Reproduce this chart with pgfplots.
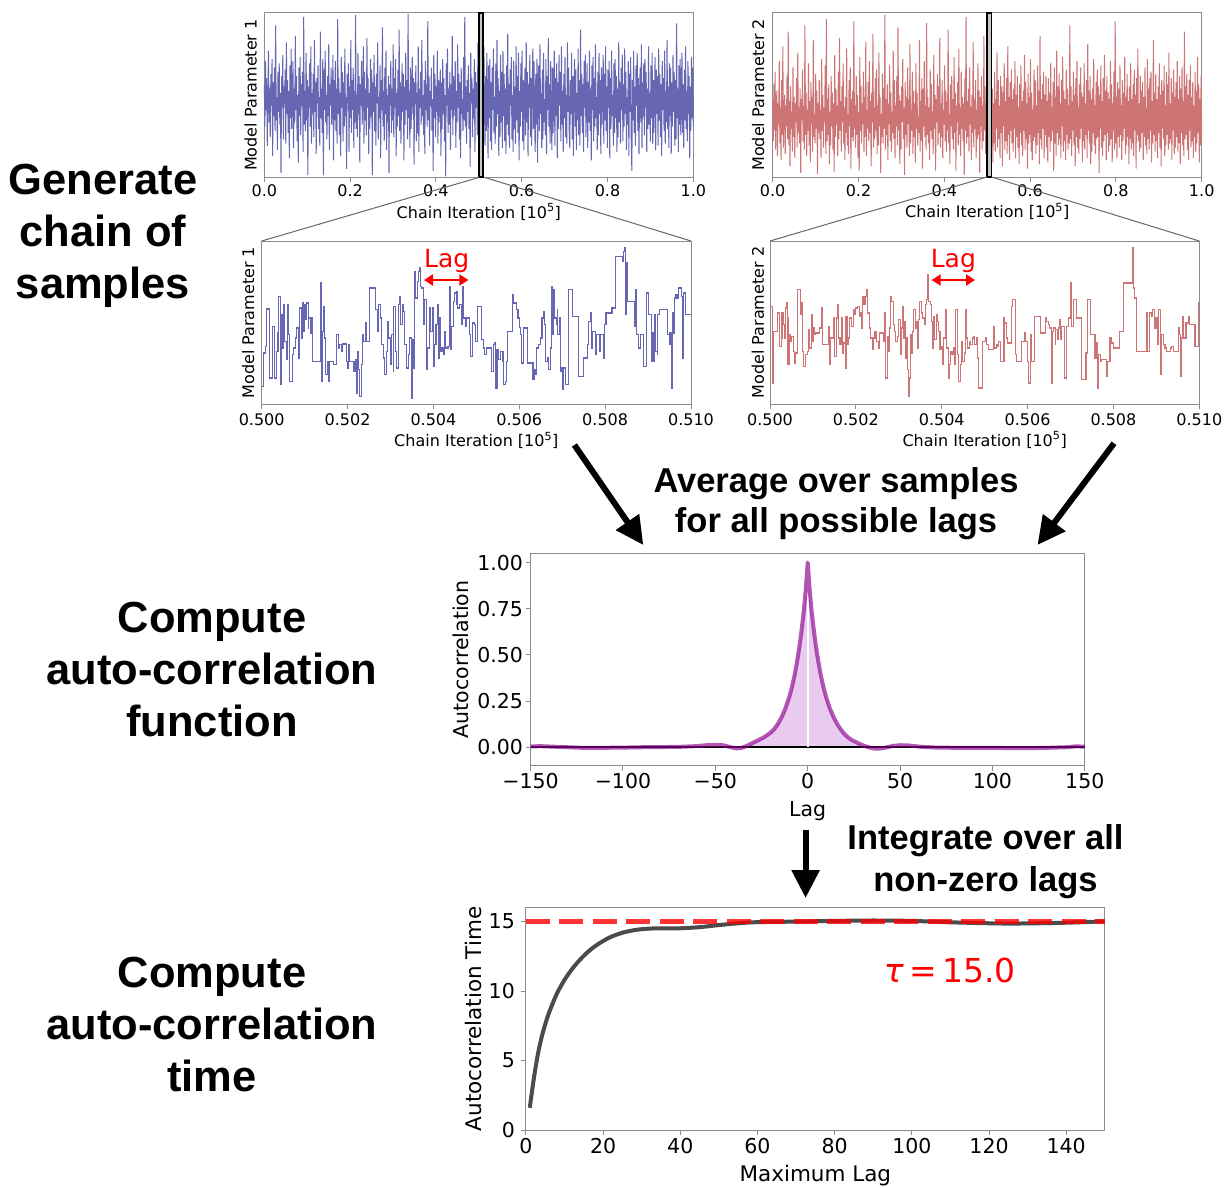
\documentclass[border=0pt]{standalone}
\usepackage{fontspec}
\setmainfont{DejaVu Sans}
\newfontfamily\headfont{Liberation Sans}
\usepackage{pgfplots}
\pgfplotsset{compat=1.18}
\usepackage{pgfplotstable}
\usetikzlibrary{arrows.meta}

\definecolor{traceblue}{RGB}{102,102,179}
\definecolor{tracered}{RGB}{205,116,116}
\definecolor{spine}{RGB}{140,140,140}
\definecolor{acfline}{RGB}{139,0,139}
\definecolor{acffill}{RGB}{233,203,240}
\definecolor{taugray}{RGB}{75,75,75}

\pgfplotsset{
  mpl/.style={
    scale only axis,
    axis line style={draw=spine, line width=1pt},
    tick style={draw=spine, line width=1pt},
    tick align=outside,
    major tick length=5pt,
    xtick pos=left, ytick pos=left,
  },
  small/.style={mpl,
    ticklabel style={font=\fontsize{16}{19}\selectfont},
    label style={font=\fontsize{16}{19}\selectfont},
    xticklabel style={anchor=base, inner sep=0pt, yshift=-14.4pt},
    ytick=\empty,
  },
  big/.style={mpl,
    ticklabel style={font=\fontsize{20.5}{24}\selectfont},
    label style={font=\fontsize{21}{25}\selectfont},
  },
}

% ---------- long chains (thinned to 720 draws each) ----------
\pgfplotstableread[header=false,row sep=\\]{
0.8\\ -1.2\\ 1.9\\ -0.4\\ 1.1\\ -2.1\\ 0.3\\ 2.4\\ -1.0\\ 0.6\\ -1.7\\ 1.3\\ -0.2\\ 2.0\\ -2.6\\ 0.9\\ -0.7\\ 1.6\\ -1.4\\ 3.6\\
-0.9\\ 0.2\\ -2.3\\ 1.4\\ -0.5\\ 1.8\\ -1.1\\ 0.4\\ -3.4\\ 1.2\\ -0.3\\ 2.2\\ -1.8\\ 0.7\\ -0.1\\ 1.5\\ -2.0\\ 2.8\\ -0.6\\ 1.0\\
-1.5\\ 0.5\\ -2.7\\ 1.7\\ -0.8\\ 2.5\\ -1.3\\ 0.1\\ 1.9\\ -2.2\\ 0.6\\ -1.0\\ 3.1\\ -0.4\\ 1.2\\ -1.9\\ 0.3\\ -2.9\\ 1.6\\ -0.7\\
2.1\\ -1.6\\ 0.8\\ -0.2\\ 1.4\\ -2.4\\ 4.0\\ -1.1\\ 0.5\\ -1.4\\ 2.3\\ -0.9\\ 1.0\\ -3.5\\ 0.7\\ -0.3\\ 1.8\\ -1.2\\ 2.6\\ -2.0\\
0.4\\ -0.6\\ 1.3\\ -1.7\\ 2.9\\ -0.5\\ 0.9\\ -2.5\\ 1.1\\ -0.1\\ 1.7\\ -1.3\\ 0.2\\ -2.1\\ 3.3\\ -0.8\\ 0.6\\ -1.5\\ 2.0\\ -3.5\\
1.5\\ -0.4\\ 2.4\\ -1.0\\ 0.3\\ -1.8\\ 1.2\\ -0.7\\ 2.7\\ -2.3\\ 0.8\\ -0.2\\ 1.6\\ -1.1\\ -0.5\\ 2.2\\ -2.8\\ 1.0\\ -0.9\\ 1.9\\
-1.4\\ 0.6\\ -2.0\\ 3.9\\ -0.6\\ 1.1\\ -1.6\\ 0.4\\ -2.6\\ 2.1\\ -0.3\\ 1.4\\ -1.9\\ 0.9\\ -1.2\\ 2.5\\ -0.7\\ 0.2\\ -3.2\\ 1.3\\
-0.1\\ 1.8\\ -2.4\\ 0.7\\ -0.8\\ 2.9\\ -1.5\\ 1.0\\ -0.4\\ 1.6\\ -2.2\\ 0.5\\ -1.0\\ 4.1\\ -1.3\\ 0.3\\ -1.7\\ 2.3\\ -0.6\\ 1.2\\
-2.9\\ 0.8\\ -0.2\\ 1.9\\ -1.1\\ 0.1\\ 2.6\\ -2.0\\ 1.4\\ -0.9\\ 0.6\\ -1.6\\ 3.0\\ -0.3\\ 1.1\\ -2.5\\ 0.4\\ -1.3\\ 2.0\\ -0.7\\
1.5\\ -3.5\\ 0.9\\ -0.5\\ 2.2\\ -1.4\\ 0.7\\ -2.1\\ 1.3\\ -0.1\\ 2.8\\ -1.8\\ 0.2\\ -0.8\\ 1.7\\ -2.7\\ 1.0\\ -0.4\\ 3.5\\ -1.2\\
0.5\\ -1.9\\ 1.6\\ -0.6\\ 2.4\\ -2.3\\ 0.3\\ -1.0\\ 1.2\\ -3.4\\ 0.8\\ -0.2\\ 1.9\\ -1.5\\ 0.6\\ -0.9\\ 2.7\\ -1.7\\ 1.1\\ -0.3\\
2.0\\ -2.6\\ 0.4\\ -1.2\\ 1.5\\ -0.7\\ 3.4\\ -1.4\\ 0.9\\ -2.0\\ 0.1\\ 1.8\\ -0.5\\ 1.3\\ -2.8\\ 0.7\\ -1.1\\ 2.3\\ -0.4\\ 1.0\\
-1.8\\ 4.15\\ -0.8\\ 0.5\\ -2.2\\ 1.6\\ -1.3\\ 0.2\\ 2.1\\ -0.6\\ 1.1\\ -3.0\\ 0.9\\ -0.1\\ 1.7\\ -1.9\\ 0.4\\ -1.5\\ 2.6\\ -2.4\\
0.6\\ -0.3\\ 1.4\\ -1.1\\ 2.9\\ -0.7\\ 0.3\\ -1.6\\ 1.0\\ -2.5\\ 1.9\\ -0.4\\ 0.8\\ -1.2\\ 3.8\\ -0.9\\ 1.2\\ -2.1\\ 0.5\\ -0.2\\
1.6\\ -1.4\\ 0.1\\ -3.3\\ 2.2\\ -0.8\\ 1.3\\ -1.7\\ 0.7\\ -0.5\\ 2.4\\ -2.0\\ 1.0\\ -1.0\\ 0.4\\ 1.5\\ -2.6\\ 0.9\\ -1.3\\ 2.0\\
-0.6\\ 1.1\\ -1.9\\ 0.3\\ -3.55\\ 1.8\\ -0.2\\ 2.5\\ -1.5\\ 0.6\\ -1.1\\ 1.4\\ -2.3\\ 0.8\\ -0.4\\ 3.1\\ -1.6\\ 1.2\\ -0.7\\ 0.2\\
1.9\\ -2.2\\ 0.5\\ -1.0\\ 2.7\\ -0.3\\ 1.3\\ -1.8\\ 0.9\\ -2.7\\ 1.6\\ -0.6\\ 0.1\\ -1.4\\ 2.1\\ -0.9\\ 4.0\\ -1.2\\ 0.7\\ -2.0\\
1.0\\ -0.5\\ 1.7\\ -1.3\\ 0.4\\ -3.1\\ 2.3\\ -0.1\\ 1.1\\ -1.7\\ 0.6\\ -0.8\\ 2.0\\ -2.4\\ 1.4\\ -0.3\\ 0.9\\ -1.6\\ 2.8\\ -1.1\\
-1.8\\ 2.2\\ -0.9\\ 1.5\\ -2.4\\ 0.7\\ 1.9\\ -1.6\\ 2.6\\ -0.3\\ -2.1\\ 1.2\\ -1.4\\ 2.3\\ 0.4\\ -2.7\\ 1.7\\ -0.8\\ 2.0\\ -1.9\\
0.9\\ -2.3\\ 1.6\\ -0.4\\ 2.5\\ -1.5\\ 0.2\\ -2.0\\ 1.8\\ -1.2\\ 2.9\\ -0.6\\ 1.1\\ -2.6\\ 0.5\\ -1.7\\ 2.2\\ -1.0\\ 1.4\\ -2.2\\
2.4\\ -0.7\\ 1.3\\ -1.9\\ 0.6\\ -2.5\\ 1.7\\ -1.1\\ 3.2\\ -1.6\\ 0.8\\ -2.2\\ 1.5\\ -0.2\\ 2.1\\ -1.8\\ 0.3\\ -2.4\\ 1.9\\ -1.3\\
0.7\\ -2.0\\ 2.6\\ -0.9\\ 1.2\\ -1.5\\ 2.3\\ -2.8\\ 0.5\\ -1.2\\ 1.8\\ -0.5\\ 2.4\\ -1.9\\ 1.0\\ -2.3\\ 0.2\\ 1.6\\ -1.6\\ 2.8\\
-1.0\\ 1.4\\ -2.6\\ 0.8\\ -0.3\\ 2.2\\ -1.7\\ 1.1\\ -2.1\\ 0.6\\ 2.5\\ -1.3\\ 1.9\\ -0.8\\ -2.4\\ 1.3\\ -1.1\\ 2.0\\ -2.9\\ 0.9\\
1.7\\ -1.4\\ 2.7\\ -0.6\\ 0.4\\ -2.2\\ 1.5\\ -1.8\\ 2.3\\ -1.0\\ 0.1\\ -1.6\\ 2.0\\ -2.5\\ 1.2\\ -0.4\\ 3.0\\ -1.2\\ 0.8\\ -2.0\\
1.9\\ -0.9\\ -2.3\\ 1.6\\ -1.5\\ 0.6\\ 2.4\\ -2.1\\ 1.1\\ -0.7\\ 1.8\\ -2.7\\ 0.9\\ -1.3\\ 2.2\\ -0.2\\ 1.4\\ -1.9\\ 2.6\\ -1.1\\
0.5\\ -2.4\\ 1.3\\ -0.8\\ 2.1\\ -1.7\\ 0.3\\ -2.0\\ 2.8\\ -0.5\\ 1.6\\ -1.4\\ -2.2\\ 1.0\\ -0.6\\ 2.3\\ -1.8\\ 1.2\\ -2.6\\ 0.7\\
2.0\\ -1.2\\ 1.5\\ -2.3\\ 0.4\\ -0.9\\ 2.5\\ -1.6\\ 1.0\\ -2.1\\ 3.4\\ -0.7\\ 1.3\\ -1.5\\ 0.8\\ -2.4\\ 1.9\\ -0.3\\ 2.2\\ -1.7\\
-0.5\\ 1.8\\ -2.2\\ 0.9\\ -1.0\\ 2.4\\ -1.4\\ 0.6\\ -2.8\\ 1.7\\ -0.4\\ 2.1\\ -1.9\\ 1.1\\ -1.2\\ 2.7\\ -0.8\\ 0.2\\ -2.3\\ 1.4\\
-1.6\\ 2.3\\ -0.6\\ 1.0\\ -2.5\\ 1.6\\ -1.1\\ 0.5\\ 2.2\\ -2.0\\ 1.3\\ -0.9\\ 2.6\\ -1.4\\ 0.7\\ -2.2\\ 1.5\\ -0.3\\ 1.9\\ -2.7\\
1.1\\ -1.3\\ 2.4\\ -0.7\\ 0.3\\ -2.1\\ 1.8\\ -1.5\\ 2.0\\ -0.8\\ 1.2\\ -2.4\\ 0.6\\ -1.7\\ 2.8\\ -1.0\\ 0.9\\ -2.0\\ 1.6\\ -0.4\\
2.2\\ -1.9\\ 0.8\\ -1.2\\ 2.5\\ -0.6\\ 1.4\\ -2.3\\ 0.2\\ -1.1\\ 1.9\\ -2.6\\ 1.3\\ -0.5\\ 2.1\\ -1.8\\ -3.3\\ 1.0\\ -0.9\\ 2.4\\
-1.5\\ 0.7\\ -2.1\\ 1.7\\ -0.2\\ 2.3\\ -1.4\\ 1.1\\ -2.5\\ 0.5\\ 1.6\\ -1.0\\ 2.7\\ -2.2\\ 0.9\\ -0.7\\ 1.8\\ -1.6\\ 2.0\\ -0.3\\
1.4\\ -2.4\\ 0.6\\ -1.3\\ 2.6\\ -1.1\\ 0.4\\ -1.9\\ 1.7\\ -0.8\\ 2.3\\ -2.0\\ 1.0\\ -1.5\\ 0.3\\ 2.1\\ -2.3\\ 1.5\\ -0.6\\ 1.2\\
-2.1\\ 2.5\\ -0.9\\ 1.3\\ -1.7\\ 0.8\\ -2.6\\ 1.9\\ -0.4\\ 1.1\\ -1.4\\ 2.4\\ -2.0\\ 0.5\\ -1.0\\ 2.9\\ -1.3\\ 0.7\\ -2.2\\ 1.8\\
-0.7\\ 1.6\\ -2.5\\ 0.9\\ -1.2\\ 2.2\\ -0.5\\ 1.4\\ -2.1\\ 1.0\\ -1.8\\ 3.7\\ -0.8\\ 0.6\\ -2.4\\ 1.7\\ -1.1\\ 2.0\\ -1.6\\ 0.4\\
2.3\\ -1.5\\ 0.8\\ -2.2\\ 1.5\\ -0.9\\ 2.6\\ -1.3\\ 0.5\\ -1.9\\ 1.9\\ -0.6\\ 1.2\\ -2.7\\ 0.7\\ -1.4\\ 2.1\\ -0.8\\ 1.6\\ -1.2\\
}\chainA

\pgfplotstableread[header=false,row sep=\\]{
0.9\\ -1.1\\ 1.6\\ -0.6\\ 2.2\\ -1.5\\ 0.4\\ 1.3\\ -1.8\\ 0.7\\ -0.3\\ 2.7\\ -1.2\\ 0.5\\ -2.0\\ 1.8\\ -0.8\\ 3.4\\ -1.4\\ 0.2\\
1.1\\ -1.7\\ 0.6\\ -0.4\\ 2.0\\ -1.0\\ 4.1\\ -1.3\\ 0.8\\ -2.3\\ 1.5\\ -0.5\\ 0.3\\ -1.6\\ 2.4\\ -0.9\\ 1.0\\ -1.9\\ 0.7\\ -0.2\\
1.9\\ -1.4\\ 3.1\\ -0.7\\ 0.5\\ -1.2\\ 1.4\\ -2.6\\ 0.9\\ -0.1\\ 2.3\\ -1.1\\ 0.6\\ -1.5\\ 4.4\\ -0.8\\ 1.2\\ -1.8\\ 0.4\\ -0.6\\
2.6\\ -1.3\\ 0.8\\ -2.1\\ 1.7\\ -0.3\\ 1.0\\ -1.6\\ 3.7\\ -0.9\\ 0.2\\ -1.2\\ 2.1\\ -0.5\\ 1.3\\ -2.65\\ 0.7\\ -0.7\\ 1.8\\ -1.0\\
0.4\\ -1.9\\ 2.8\\ -0.6\\ 1.1\\ -1.4\\ 0.5\\ -0.2\\ 2.5\\ -1.7\\ 4.7\\ -1.1\\ 0.9\\ -0.8\\ 1.6\\ -2.2\\ 0.3\\ -1.3\\ 2.0\\ -0.4\\
1.2\\ -1.5\\ 0.7\\ -2.55\\ 3.0\\ -0.9\\ 1.4\\ -0.3\\ 0.6\\ -1.8\\ 2.2\\ -1.0\\ 3.8\\ -0.6\\ 0.8\\ -1.6\\ 1.5\\ -0.2\\ 2.6\\ -1.2\\
0.5\\ -2.0\\ 1.0\\ -0.7\\ 3.3\\ -1.3\\ 0.2\\ -1.7\\ 1.8\\ -0.4\\ 2.4\\ -2.4\\ 0.9\\ -0.9\\ 1.3\\ -1.1\\ 4.6\\ -0.5\\ 0.6\\ -1.4\\
2.0\\ -0.8\\ 1.1\\ -1.9\\ 0.3\\ -2.5\\ 2.9\\ -0.6\\ 1.5\\ -1.2\\ 0.7\\ -0.3\\ 2.2\\ -1.6\\ 1.0\\ -0.9\\ 3.6\\ -1.8\\ 0.4\\ -0.5\\
1.7\\ -1.1\\ 2.7\\ -0.7\\ 0.8\\ -2.3\\ 1.2\\ -0.2\\ 4.0\\ -1.4\\ 0.5\\ -1.0\\ 1.9\\ -0.6\\ 2.3\\ -1.7\\ 0.6\\ -1.3\\ 3.1\\ -0.4\\
1.0\\ -2.6\\ 0.2\\ -0.9\\ 2.1\\ -1.2\\ 1.4\\ -0.5\\ 4.9\\ -1.5\\ 0.9\\ -0.8\\ 1.6\\ -2.0\\ 0.7\\ -0.3\\ 2.5\\ -1.1\\ 1.2\\ -1.6\\
0.3\\ -0.7\\ 3.2\\ -1.0\\ 1.8\\ -1.9\\ 0.6\\ -0.4\\ 2.0\\ -1.3\\ 4.3\\ -0.6\\ 1.1\\ -2.2\\ 0.8\\ -1.5\\ 1.5\\ -0.2\\ 2.8\\ -1.0\\
0.5\\ -2.7\\ 1.7\\ -0.8\\ 1.0\\ -1.4\\ 2.4\\ -0.3\\ 0.9\\ -1.8\\ 3.5\\ -1.2\\ 0.4\\ -0.6\\ 2.2\\ -1.7\\ 1.3\\ -0.9\\ 0.7\\ -2.1\\
2.6\\ -0.5\\ 1.2\\ -1.3\\ 0.1\\ -0.7\\ 3.7\\ -1.6\\ 0.8\\ -1.1\\ 1.9\\ -2.4\\ 1.4\\ -0.4\\ 2.7\\ -0.9\\ 0.6\\ -1.5\\ 4.5\\ -0.8\\
1.0\\ -1.2\\ 0.5\\ -2.0\\ 2.3\\ -0.6\\ 1.6\\ -1.0\\ 0.3\\ -1.7\\ 3.0\\ -0.5\\ 1.1\\ -2.5\\ 0.9\\ -0.2\\ 2.1\\ -1.3\\ 1.5\\ -0.7\\
3.8\\ -1.4\\ 0.7\\ -0.9\\ 1.8\\ -1.9\\ 0.4\\ -0.3\\ 2.5\\ -1.1\\ 1.3\\ -1.6\\ 0.8\\ -0.6\\ 4.2\\ -1.2\\ 0.2\\ -2.2\\ 1.6\\ -0.4\\
2.0\\ -1.0\\ 0.9\\ -1.5\\ 2.9\\ -0.7\\ 1.2\\ -2.5\\ 0.6\\ -0.2\\ 1.7\\ -1.3\\ 3.3\\ -0.8\\ 0.5\\ -1.8\\ 2.2\\ -0.5\\ 1.0\\ -1.1\\
0.7\\ -2.7\\ 1.9\\ -0.6\\ 4.8\\ -1.2\\ 0.8\\ -0.9\\ 1.4\\ -1.6\\ 2.4\\ -0.3\\ 0.5\\ -2.0\\ 1.1\\ -0.7\\ 3.6\\ -1.4\\ 0.9\\ -0.5\\
1.8\\ -1.9\\ 0.4\\ -1.0\\ 2.6\\ -0.8\\ 1.3\\ -2.6\\ 1.0\\ -0.4\\ 2.0\\ -1.5\\ 0.6\\ -1.1\\ 3.9\\ -0.6\\ 1.5\\ -1.7\\ 0.8\\ -0.2\\
1.6\\ -1.3\\ 2.4\\ -0.9\\ 1.1\\ -1.8\\ 2.9\\ -0.6\\ 1.4\\ -2.1\\ 0.7\\ -1.2\\ 2.2\\ -1.6\\ 0.9\\ -0.5\\ 3.1\\ -1.4\\ 1.8\\ -1.0\\
0.6\\ -1.9\\ 2.0\\ -0.7\\ 1.5\\ -2.3\\ 1.2\\ -0.4\\ 2.6\\ -1.5\\ 0.8\\ -1.1\\ 1.9\\ -1.7\\ 3.4\\ -0.8\\ 1.0\\ -2.0\\ 1.7\\ -0.6\\
2.3\\ -1.2\\ 0.9\\ -1.6\\ 1.4\\ -0.5\\ 2.7\\ -1.9\\ 1.1\\ -0.9\\ 2.0\\ -1.4\\ 0.5\\ -2.2\\ 1.6\\ -0.7\\ 2.5\\ -1.3\\ 0.8\\ -1.8\\
1.3\\ -0.6\\ 3.0\\ -1.5\\ 1.7\\ -1.0\\ 0.7\\ -2.4\\ 2.1\\ -1.2\\ 1.0\\ -0.8\\ 2.8\\ -1.6\\ 1.2\\ -2.0\\ 0.4\\ -1.1\\ 2.3\\ -0.9\\
1.8\\ -1.7\\ 0.6\\ -1.3\\ 2.5\\ -0.7\\ 1.3\\ -2.2\\ 3.9\\ -1.0\\ 0.9\\ -1.5\\ 1.6\\ -0.5\\ 2.2\\ -1.9\\ 1.1\\ -0.8\\ 2.0\\ -1.4\\
0.8\\ -2.1\\ 1.9\\ -0.9\\ 1.2\\ -1.6\\ 2.6\\ -1.1\\ 0.5\\ -0.6\\ 1.7\\ -2.5\\ 2.4\\ -1.2\\ 1.0\\ -1.8\\ 3.2\\ -0.7\\ 1.5\\ -1.3\\
2.1\\ -1.0\\ 0.7\\ -1.9\\ 1.8\\ -0.4\\ 2.9\\ -1.6\\ 1.3\\ -1.1\\ 0.9\\ -2.0\\ 2.3\\ -0.8\\ 1.4\\ -1.5\\ 0.6\\ -1.2\\ 4.4\\ -1.0\\
1.5\\ -1.8\\ 0.8\\ -0.6\\ 2.2\\ -1.3\\ 1.1\\ -2.3\\ 1.9\\ -0.9\\ 2.7\\ -1.4\\ 0.5\\ -1.7\\ 1.6\\ -1.0\\ 2.4\\ -0.5\\ 1.2\\ -2.1\\
1.0\\ -1.1\\ 2.6\\ -1.5\\ 0.7\\ -0.8\\ 1.8\\ -1.9\\ 3.5\\ -0.6\\ 1.3\\ -1.2\\ 2.0\\ -2.2\\ 0.9\\ -1.6\\ 1.4\\ -0.7\\ 2.8\\ -1.3\\
0.6\\ -1.7\\ 1.7\\ -1.0\\ 2.3\\ -0.9\\ 1.5\\ -2.6\\ 1.1\\ -0.5\\ 2.5\\ -1.4\\ 0.8\\ -1.8\\ 1.9\\ -1.1\\ 3.0\\ -0.8\\ 1.3\\ -2.0\\
2.0\\ -0.7\\ 1.2\\ -1.6\\ 0.9\\ -1.3\\ 2.7\\ -1.0\\ 1.6\\ -2.1\\ 0.7\\ -0.6\\ 2.2\\ -1.5\\ 4.6\\ -1.2\\ 1.0\\ -1.9\\ 1.7\\ -0.9\\
1.4\\ -1.4\\ 2.5\\ -0.8\\ 0.6\\ -2.0\\ 1.8\\ -1.1\\ 1.2\\ -0.5\\ 2.9\\ -1.7\\ 1.0\\ -1.3\\ 2.1\\ -0.9\\ 0.8\\ -2.2\\ 1.5\\ -1.0\\
2.6\\ -1.5\\ 0.9\\ -1.2\\ 1.6\\ -1.8\\ 2.3\\ -0.6\\ 1.1\\ -2.4\\ 1.9\\ -0.8\\ 3.3\\ -1.1\\ 0.7\\ -1.6\\ 2.0\\ -1.4\\ 1.3\\ -0.7\\
1.7\\ -2.0\\ 1.0\\ -0.9\\ 2.4\\ -1.3\\ 0.5\\ -1.7\\ 2.8\\ -1.0\\ 1.4\\ -1.5\\ 1.9\\ -0.6\\ 2.2\\ -2.1\\ 0.8\\ -1.2\\ 3.7\\ -0.8\\
1.2\\ -1.6\\ 2.1\\ -1.1\\ 0.9\\ -1.9\\ 1.5\\ -0.7\\ 2.6\\ -1.4\\ 1.1\\ -2.3\\ 1.8\\ -0.5\\ 1.3\\ -1.0\\ 2.5\\ -1.8\\ 0.6\\ -1.3\\
2.2\\ -0.8\\ 1.6\\ -1.5\\ 3.1\\ -1.2\\ 0.7\\ -1.0\\ 1.9\\ -2.0\\ 1.2\\ -0.6\\ 2.3\\ -1.7\\ 1.0\\ -1.4\\ 1.7\\ -0.9\\ 2.7\\ -1.6\\
0.9\\ -1.2\\ 2.0\\ -2.2\\ 1.4\\ -0.7\\ 2.4\\ -1.3\\ 0.8\\ -1.8\\ 4.1\\ -1.0\\ 1.5\\ -0.8\\ 2.1\\ -1.5\\ 1.1\\ -2.0\\ 1.8\\ -0.6\\
2.5\\ -1.4\\ 1.0\\ -1.1\\ 1.7\\ -1.9\\ 0.6\\ -0.9\\ 2.2\\ -1.6\\ 1.3\\ -1.2\\ 2.9\\ -0.7\\ 1.6\\ -2.1\\ 0.9\\ -1.3\\ 2.0\\ -1.0\\
}\chainB

% ---------- 1000-iteration windows (iteration offset, value) ----------
\pgfplotstableread{
0 0.55
5 1.55
9 1.75
11 2.87
19 0.80
26 2.35
29 0.80
34 1.60
38 2.15
40 3.25
43 0.60
46 2.70
48 1.70
51 3.00
54 1.90
57 1.35
60 3.00
62 2.10
64 0.70
71 1.50
75 1.70
78 2.00
82 2.30
85 1.40
87 2.55
89 2.90
92 2.00
95 3.05
98 2.20
100 3.00
102 2.55
105 3.05
108 2.30
110 2.60
113 2.15
116 2.60
118 1.30
136 3.65
139 0.70
141 2.20
144 2.95
147 2.00
149 0.90
153 1.30
156 0.70
158 1.30
168 1.20
174 2.10
178 1.70
182 1.80
186 1.60
189 1.82
197 1.30
200 1.10
203 1.80
205 1.30
215 1.00
218 1.35
220 0.35
223 1.60
226 1.05
228 0.25
232 1.20
235 2.10
238 1.90
241 2.45
244 1.90
252 3.50
266 2.85
269 2.20
272 3.00
276 2.60
280 1.80
283 1.40
286 0.90
290 1.60
293 2.50
296 2.00
299 1.20
302 2.10
306 1.00
308 2.95
311 1.60
314 1.10
318 3.00
321 3.25
324 2.40
327 3.00
330 2.80
333 1.80
337 1.10
341 1.50
345 2.00
349 0.20
352 1.95
354 1.10
356 4.00
359 3.20
363 3.70
366 4.00
368 4.10
370 3.55
373 3.50
377 2.40
380 3.15
384 1.05
387 1.70
391 2.90
394 2.20
397 2.90
400 1.15
403 1.80
406 2.40
409 3.00
411 1.40
415 2.60
417 1.60
420 1.70
423 1.50
426 2.20
429 1.70
434 1.75
437 3.55
440 1.65
443 2.35
446 3.10
450 3.35
453 3.00
455 3.40
457 2.90
461 3.00
465 2.40
468 3.55
471 2.60
474 2.35
478 2.60
484 2.10
487 1.45
490 2.45
495 2.40
499 1.90
502 2.95
511 1.95
517 1.70
519 1.50
523 1.70
535 1.00
539 1.80
542 1.85
544 0.50
548 1.65
552 1.35
556 1.60
562 1.30
564 0.60
568 0.70
570 1.30
573 2.20
584 3.30
587 3.05
594 2.85
597 2.60
600 2.32
602 2.10
606 1.25
610 2.30
620 1.25
632 0.75
635 1.05
637 0.90
641 1.70
645 1.80
649 2.00
653 2.60
657 2.80
659 2.40
662 1.30
665 1.40
668 1.05
672 1.70
675 3.55
678 2.10
680 3.45
683 2.60
686 2.40
688 2.85
690 2.10
693 2.60
695 1.00
698 1.10
700 0.45
703 1.10
707 0.60
714 3.45
725 2.65
738 0.85
749 1.40
758 1.80
762 2.50
765 2.75
768 1.70
771 2.20
777 1.50
780 2.10
786 1.60
790 2.10
796 1.40
799 2.40
802 2.75
816 2.90
824 4.45
841 4.30
843 4.60
846 4.70
848 2.70
850 4.25
852 3.10
868 2.35
870 3.45
874 2.10
878 1.70
883 2.10
890 1.15
897 3.35
900 2.70
908 1.30
910 2.15
912 1.30
915 2.70
918 1.60
921 1.50
923 2.70
926 2.85
946 2.10
949 1.80
951 2.15
954 0.50
957 2.75
960 2.15
962 3.20
965 3.30
968 3.20
971 3.50
978 3.25
980 1.40
982 3.35
987 2.70
1000 2.70
}\windowA

\pgfplotstableread{
0 2.95
5 1.55
7 0.65
9 2.20
17 2.75
23 1.75
26 2.00
28 2.75
31 2.40
33 2.00
36 2.90
39 3.05
40 2.60
42 1.20
45 2.10
48 1.90
51 2.05
54 1.60
57 1.25
59 1.55
63 3.45
71 2.70
74 3.05
76 1.60
79 1.15
82 1.50
87 1.60
90 2.25
93 1.70
96 2.70
99 1.90
102 2.30
104 2.10
107 2.15
116 2.30
120 2.90
123 1.80
137 2.35
139 1.20
141 2.00
148 2.60
151 1.45
154 2.60
157 3.00
159 2.00
163 1.80
166 2.60
169 1.55
172 1.85
175 1.10
177 2.65
180 1.80
183 2.00
186 2.60
189 2.35
194 2.85
197 2.70
200 2.90
203 2.95
209 2.65
211 2.75
214 2.30
216 3.25
219 3.00
222 3.25
225 3.45
228 2.75
231 2.30
235 2.00
238 1.65
241 2.00
244 2.20
247 2.00
249 1.90
252 1.70
255 2.15
264 1.90
267 2.75
270 0.80
273 2.05
275 1.60
278 2.30
281 3.25
284 3.10
287 2.40
290 2.20
293 1.90
297 2.05
300 2.55
303 1.50
306 2.30
309 2.95
311 2.00
314 2.50
316 1.40
318 2.00
321 1.05
323 0.25
325 0.80
328 2.10
330 1.55
332 2.20
335 2.85
338 2.30
340 2.50
343 1.70
346 2.55
349 3.10
352 2.75
356 2.60
359 2.40
362 3.00
365 3.15
367 3.90
370 3.10
373 3.00
376 2.50
378 1.70
380 2.65
384 1.95
387 2.70
390 2.50
393 2.20
396 1.65
399 1.75
402 1.20
405 2.00
408 2.85
412 1.70
415 0.80
418 1.20
421 1.60
424 1.50
427 1.70
430 1.20
433 2.85
436 1.50
439 0.70
443 1.20
446 1.90
449 1.30
452 1.55
455 2.85
458 2.00
461 1.70
464 1.90
467 1.80
471 2.00
474 2.05
477 1.80
480 2.00
483 1.40
486 0.50
494 1.90
501 2.00
505 1.80
509 1.65
520 2.35
523 1.70
527 1.80
530 1.75
533 1.90
536 1.30
545 2.60
547 2.45
550 2.00
553 1.85
563 2.95
565 3.15
571 1.50
575 1.30
586 1.90
593 2.15
596 1.90
599 1.30
602 0.65
606 2.10
610 1.30
617 2.65
631 2.15
641 2.60
645 2.50
648 2.40
652 2.30
655 0.65
657 2.20
660 2.30
664 1.80
666 2.25
669 1.95
672 2.30
674 2.55
677 1.95
679 2.35
686 0.80
690 2.35
696 2.60
699 3.65
702 2.35
707 3.15
714 2.60
726 0.75
736 1.55
739 3.15
747 2.10
757 1.40
761 1.85
763 0.50
766 1.50
769 1.30
773 1.35
783 0.85
786 1.30
792 2.00
795 1.85
800 1.70
815 2.20
823 3.65
845 4.70
847 3.50
850 3.20
853 1.60
876 2.75
879 1.60
885 2.75
888 2.65
891 2.85
895 2.30
899 2.60
903 1.80
905 2.85
909 0.90
912 2.10
916 1.80
920 1.70
924 1.60
932 1.70
936 1.75
940 1.60
951 2.30
954 2.10
957 0.85
959 2.00
961 2.65
964 2.00
969 2.45
975 2.65
978 2.40
990 1.75
998 3.05
1000 3.05
}\windowB

% ---------- autocorrelation function ----------
\pgfplotstableread{
-150 0.004
-145 0.006
-140 0.004
-130 0.000
-120 -0.004
-110 -0.003
-100 -0.002
-90 0.000
-80 0.001
-70 0.002
-60 0.006
-55 0.011
-50 0.013
-46 0.011
-43 0.004
-40 -0.004
-38 -0.006
-36 -0.004
-34 0.003
-32 0.012
-30 0.022
-28 0.032
-26 0.042
-24 0.052
-22 0.065
-20 0.080
-18 0.100
-16 0.128
-14 0.165
-12 0.212
-10 0.272
-9 0.307
-8 0.348
-7 0.395
-6 0.450
-5 0.510
-4 0.580
-3 0.660
-2 0.750
-1 0.860
0 1.000
1 0.860
2 0.750
3 0.660
4 0.580
5 0.510
6 0.450
7 0.395
8 0.348
9 0.307
10 0.270
12 0.210
14 0.163
16 0.125
18 0.095
20 0.070
22 0.052
24 0.038
26 0.028
28 0.018
30 0.010
32 0.003
34 -0.003
36 -0.007
38 -0.008
40 -0.006
43 0.000
46 0.007
50 0.011
54 0.010
58 0.006
62 0.002
70 -0.002
80 -0.003
90 -0.004
100 -0.003
110 -0.005
120 -0.005
130 -0.003
140 0.000
145 0.005
150 0.003
}\acf

% ---------- integrated autocorrelation time vs. window ----------
\pgfplotstableread{
1 1.6
2 3.6
3 5.3
4 6.6
5 7.6
6 8.45
8 9.8
10 10.8
12 11.6
14 12.25
16 12.8
18 13.25
20 13.6
22 13.9
25 14.2
28 14.38
31 14.48
35 14.52
40 14.52
45 14.6
50 14.75
55 14.88
60 14.96
70 15.0
80 15.05
90 15.08
100 15.05
110 14.95
120 14.88
125 14.86
130 14.87
140 14.92
150 15.02
}\tauint

\begin{document}
\begin{tikzpicture}
\useasboundingbox (0,0) rectangle (1227pt,-1187pt);

% ---------------- full chain, parameter 1 ----------------
\begin{axis}[small, at={(264.3pt,-177.3pt)}, anchor=south west,
  width=429pt, height=164.6pt, clip=false,
  xmin=0, xmax=1, ymin=-3.6, ymax=4.2,
  xtick={0,0.2,0.4,0.6,0.8,1}, xticklabels={0.0,0.2,0.4,0.6,0.8,1.0},
  xlabel={Chain Iteration [10\textsuperscript{5}]}, ylabel={Model Parameter 1},
  xlabel style={at={(axis description cs:0.5,-0.2473)}, anchor=base},
  ylabel style={at={(axis description cs:-0.0177,0.5)}, anchor=base}]
\addplot[draw=traceblue, line width=1pt, mark=none] table[x expr=\coordindex/719, y index=0] {\chainA};
\draw[fill=black!22, draw=black, line width=1.8pt] (axis cs:0.5,-3.6) rectangle (axis cs:0.51,4.2);
\end{axis}

% ---------------- full chain, parameter 2 ----------------
\begin{axis}[small, at={(772.7pt,-177pt)}, anchor=south west,
  width=429pt, height=164.3pt, clip=false,
  xmin=0, xmax=1, ymin=-2.8, ymax=5.0,
  xtick={0,0.2,0.4,0.6,0.8,1}, xticklabels={0.0,0.2,0.4,0.6,0.8,1.0},
  xlabel={Chain Iteration [10\textsuperscript{5}]}, ylabel={Model Parameter 2},
  xlabel style={at={(axis description cs:0.5,-0.2495)}, anchor=base},
  ylabel style={at={(axis description cs:-0.0203,0.5)}, anchor=base}]
\addplot[draw=tracered, line width=1pt, mark=none] table[x expr=\coordindex/719, y index=0] {\chainB};
\draw[fill=black!22, draw=black, line width=1.8pt] (axis cs:0.5,-2.8) rectangle (axis cs:0.51,5.0);
\end{axis}

% ---------------- zoomed window, parameter 1 ----------------
\begin{axis}[small, at={(261.7pt,-404.3pt)}, anchor=south west,
  width=429.3pt, height=163.3pt,
  xmin=0, xmax=1000, ymin=0.01, ymax=4.91,
  xtick={0,200,400,600,800,1000},
  xticklabels={0.500,0.502,0.504,0.506,0.508,0.510},
  xticklabel style={yshift=-1.6pt},
  xlabel={Chain Iteration [10\textsuperscript{5}]}, ylabel={Model Parameter 1},
  xlabel style={at={(axis description cs:0.5,-0.2596)}, anchor=base},
  ylabel style={at={(axis description cs:-0.0179,0.5)}, anchor=base}]
\addplot[const plot, draw=traceblue, line width=1.1pt, mark=none] table {\windowA};
\end{axis}

% ---------------- zoomed window, parameter 2 ----------------
\begin{axis}[small, at={(770pt,-404pt)}, anchor=south west,
  width=429.3pt, height=163pt,
  xmin=0, xmax=1000, ymin=0.02, ymax=4.91,
  xtick={0,200,400,600,800,1000},
  xticklabels={0.500,0.502,0.504,0.506,0.508,0.510},
  xticklabel style={yshift=-1.6pt},
  xlabel={Chain Iteration [10\textsuperscript{5}]}, ylabel={Model Parameter 2},
  xlabel style={at={(axis description cs:0.5,-0.2577)}, anchor=base},
  ylabel style={at={(axis description cs:-0.014,0.5)}, anchor=base}]
\addplot[const plot, draw=tracered, line width=1.1pt, mark=none] table {\windowB};
\end{axis}

% ---------------- autocorrelation function ----------------
\begin{axis}[big, at={(530.6pt,-765.7pt)}, anchor=south west,
  width=554.2pt, height=212.4pt,
  xmin=-150, xmax=150, ymin=-0.10, ymax=1.05,
  xtick={-150,-100,-50,0,50,100,150},
  xticklabels={−150,−100,−50,0,50,100,150},
  ytick={0,0.25,0.5,0.75,1}, yticklabels={0.00,0.25,0.50,0.75,1.00},
  xticklabel style={anchor=base, inner sep=0pt, yshift=-17.6pt},
  yticklabel style={anchor=east, inner sep=0pt, xshift=-2.4pt},
  label style={font=\fontsize{20.5}{24}\selectfont},
  xlabel={Lag}, ylabel={Autocorrelation},
  xlabel style={at={(axis description cs:0.5,-0.2401)}, anchor=base},
  ylabel style={at={(axis description cs:-0.1126,0.5)}, anchor=base}]
\addplot[fill=acffill, draw=none, restrict x to domain=-33:33] table {\acf} \closedcycle;
\addplot[black, line width=1.5pt, mark=none] coordinates {(-150,0) (150,0)};
\draw[white, line width=1.6pt] (axis cs:0,0) -- (axis cs:0,0.96);
\addplot[draw=acfline, draw opacity=0.65, line width=4pt, line join=round, mark=none] table {\acf};
\end{axis}

% ---------------- integrated autocorrelation time ----------------
\begin{axis}[big, at={(525.9pt,-1130pt)}, anchor=south west,
  width=578.9pt, height=222.3pt,
  xmin=0, xmax=150, ymin=0, ymax=16,
  xtick={0,20,40,60,80,100,120,140},
  xticklabels={0,20,40,60,80,100,120,140},
  ytick={0,5,10,15}, yticklabels={0,5,10,15},
  xticklabel style={anchor=base, inner sep=0pt, yshift=-18.3pt},
  yticklabel style={anchor=east, inner sep=0pt, xshift=-5.9pt},
  label style={font=\fontsize{21.5}{25}\selectfont},
  xlabel={Maximum Lag}, ylabel={Autocorrelation Time},
  xlabel style={at={(axis description cs:0.5,-0.2326)}, anchor=base},
  ylabel style={at={(axis description cs:-0.0772,0.5)}, anchor=base}]
\addplot[draw=taugray, line width=4pt, smooth, mark=none] table {\tauint};
\addplot[draw=red, draw opacity=0.8, line width=4.5pt, dash pattern=on 24pt off 9.5pt, mark=none] coordinates {(0,15) (150,15)};
\node[anchor=base west, text=red, font=\fontsize{33}{38}\selectfont, inner sep=0pt]
  at (axis cs:92.7,10.6) {{\itshape τ}\,=\,15.0};
\end{axis}

% ---------------- zoom connectors ----------------
\draw[black!60, line width=1pt] (479.3pt,-177.3pt) -- (261.7pt,-241pt);
\draw[black!60, line width=1pt] (484.3pt,-177.3pt) -- (691pt,-241pt);
\draw[black!60, line width=1pt] (987pt,-177pt) -- (770pt,-241pt);
\draw[black!60, line width=1pt] (991.5pt,-177pt) -- (1199.3pt,-241pt);

% ---------------- lag markers ----------------
\node[anchor=base, text=red, font=\fontsize{25}{30}\selectfont, inner sep=0pt] at (446.7pt,-267.3pt) {Lag};
\draw[red, line width=2.5pt, {Triangle[length=9pt,width=11pt]}-{Triangle[length=9pt,width=11pt]}] (424pt,-280pt) -- (468.3pt,-280pt);
\node[anchor=base, text=red, font=\fontsize{25}{30}\selectfont, inner sep=0pt] at (953.3pt,-267.3pt) {Lag};
\draw[red, line width=2.5pt, {Triangle[length=9pt,width=11pt]}-{Triangle[length=9pt,width=11pt]}] (931.7pt,-280pt) -- (975pt,-280pt);

% ---------------- flow arrows ----------------
\draw[black, line width=6pt, -{Triangle[length=28pt,width=27pt]}] (574.4pt,-445pt) -- (643.3pt,-545pt);
\draw[black, line width=6pt, -{Triangle[length=28pt,width=27pt]}] (1114pt,-443.3pt) -- (1037.5pt,-545pt);
\draw[black, line width=6pt, -{Triangle[length=28pt,width=27pt]}] (805.6pt,-830pt) -- (805.6pt,-898pt);

% ---------------- step captions ----------------
\begin{scope}[every node/.style={anchor=base, inner sep=0pt, font=\headfont\bfseries\fontsize{43.5}{52}\selectfont}]
\node at (103pt,-194pt) {Generate};
\node at (103pt,-246pt) {chain of};
\node at (103pt,-298pt) {samples};
\node at (212pt,-632pt) {Compute};
\node at (212pt,-684pt) {auto-correlation};
\node at (212pt,-736pt) {function};
\node at (212pt,-987pt) {Compute};
\node at (212pt,-1039pt) {auto-correlation};
\node at (212pt,-1091pt) {time};
\end{scope}
\begin{scope}[every node/.style={anchor=base, inner sep=0pt, font=\headfont\bfseries\fontsize{34.5}{41}\selectfont}]
\node at (836pt,-492pt) {Average over samples};
\node at (836pt,-532pt) {for all possible lags};
\node at (985.5pt,-849pt) {Integrate over all};
\node at (985.5pt,-891pt) {non-zero lags};
\end{scope}
\end{tikzpicture}
\end{document}
